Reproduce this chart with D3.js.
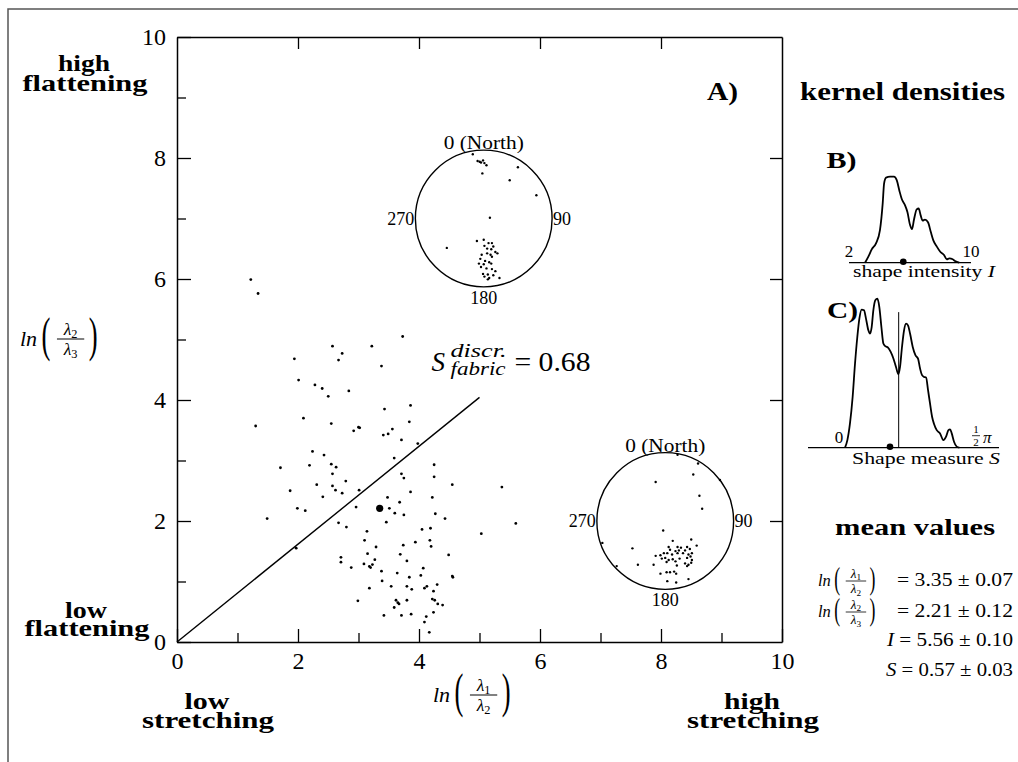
<!DOCTYPE html>
<html lang="en">
<head>
<meta charset="UTF-8">
<title>Fabric shape plot</title>
<script src="https://d3js.org/d3.v7.min.js"></script>
<style>
  body { margin: 0; padding: 0; background: #fff; }
  svg { display: block; font-family: "Liberation Serif", "DejaVu Serif", serif; }
</style>
</head>
<body>
<svg id="chart" width="1018" height="762"></svg>
<script>
// ---- data ----
const axisTicks = d3.range(0, 11);
const axisTickLabels = [0, 2, 4, 6, 8, 10];

// ln(l1/l2), ln(l2/l3) of every sample
const shapePoints = [
  [1.22,5.99],[1.34,5.76],[3.73,5.05],[2.57,4.89],[3.22,4.89],[2.73,4.77],[2.67,4.66],[1.94,4.68],
  [3.38,4.56],[2.01,4.33],[2.28,4.25],[2.40,4.19],[2.84,4.15],[2.50,4.06],[3.86,3.91],[3.43,3.85],
  [2.09,3.70],[3.84,3.64],[2.55,3.61],[1.30,3.57],[3.00,3.55],[3.02,3.54],[2.92,3.49],[3.56,3.52],
  [3.49,3.44],[3.41,3.42],[3.71,3.34],[3.98,3.28],[2.24,3.15],[2.43,3.09],[3.59,3.04],[2.19,2.92],
  [2.55,2.94],[2.63,2.89],[1.71,2.88],[4.25,2.93],[2.57,2.78],[3.71,2.78],[3.75,2.71],[4.25,2.73],
  [2.79,2.66],[2.31,2.60],[2.57,2.58],[4.55,2.60],[5.37,2.56],[1.87,2.50],[2.62,2.51],[2.73,2.46],
  [3.01,2.51],[3.86,2.48],[2.41,2.40],[3.48,2.39],[4.22,2.39],[3.68,2.31],[2.96,2.23],[3.51,2.21],
  [1.99,2.21],[2.12,2.17],[3.60,2.13],[3.75,2.10],[4.27,2.12],[4.43,2.04],[1.49,2.04],[3.46,1.98],
  [2.67,1.97],[2.80,1.90],[5.03,1.79],[5.60,1.96],[3.14,1.83],[4.05,1.86],[4.19,1.88],[3.10,1.68],
  [4.18,1.68],[3.94,1.65],[4.20,1.58],[3.29,1.57],[1.97,1.55],[3.74,1.60],[3.15,1.46],[3.69,1.45],
  [4.49,1.44],[2.71,1.40],[3.27,1.36],[3.80,1.34],[2.71,1.32],[3.09,1.29],[3.23,1.28],[3.18,1.25],
  [2.88,1.23],[3.20,1.23],[4.07,1.22],[3.38,1.17],[3.64,1.14],[4.03,1.10],[4.55,1.09],[4.56,1.07],
  [3.84,1.07],[3.39,1.01],[3.54,0.92],[3.80,0.92],[4.13,0.92],[4.30,0.95],[3.18,0.89],[3.88,0.87],
  [4.09,0.89],[4.24,0.84],[3.62,0.69],[3.80,0.69],[3.65,0.65],[4.22,0.71],[4.26,0.69],[2.99,0.68],
  [3.67,0.63],[3.59,0.57],[4.31,0.63],[4.39,0.61],[4.24,0.49],[3.42,0.44],[3.71,0.44],[3.87,0.46],
  [4.12,0.42],[4.09,0.33],[4.17,0.16]
];
const meanPoint = [3.35, 2.21];
const discrS = 0.68;        // S_fabric^discr.
const discrLineEndX = 5;

// stereonet poles, unit circle coords (east, north)
const netUpperPoles = [
  [-0.16,0.94],[-0.09,0.84],[-0.06,0.83],[-0.01,0.85],[0.01,0.81],[0.04,0.78],[-0.04,0.82],[-0.02,0.66],
  [0.50,0.75],[0.38,0.56],[0.77,0.34],[0.09,0.01],[-0.54,-0.43],
  [-0.10,-0.33],[0.00,-0.31],[0.07,-0.36],[0.12,-0.36],[0.01,-0.40],[0.14,-0.41],[0.05,-0.44],[0.11,-0.45],
  [0.17,-0.49],[0.20,-0.51],[-0.03,-0.53],[0.05,-0.51],[0.10,-0.53],[0.12,-0.56],[-0.05,-0.59],[0.02,-0.62],
  [0.08,-0.64],[-0.07,-0.66],[0.00,-0.67],[0.11,-0.66],[-0.04,-0.71],[0.04,-0.73],[0.12,-0.74],[0.17,-0.77],
  [-0.01,-0.81],[0.06,-0.82],[0.14,-0.83],[0.01,-0.85],[0.08,-0.87],[0.23,-0.87],[0.06,-0.89]
];
const netLowerPoles = [
  [0.18,0.97],[0.48,0.84],[0.41,0.68],[-0.14,0.57],[0.80,0.60],[0.50,0.37],[0.54,0.18],[-0.03,-0.14],
  [-0.92,-0.32],[-0.48,-0.40],[-0.40,-0.64],[-0.71,-0.66],[-0.17,-0.64],
  [0.11,-0.29],[0.38,-0.27],[0.05,-0.38],[0.18,-0.38],[0.23,-0.39],[0.32,-0.38],[0.46,-0.36],[0.07,-0.42],
  [0.15,-0.44],[0.20,-0.43],[0.29,-0.43],[0.36,-0.41],[-0.14,-0.51],[-0.07,-0.50],[-0.02,-0.47],[0.03,-0.47],
  [0.10,-0.49],[0.18,-0.47],[0.26,-0.47],[0.34,-0.49],[0.39,-0.47],[-0.05,-0.55],[0.00,-0.54],[0.05,-0.57],
  [0.11,-0.56],[0.21,-0.55],[0.32,-0.54],[0.37,-0.52],[0.39,-0.57],[0.02,-0.60],[0.15,-0.59],[0.17,-0.65],
  [0.29,-0.62],[0.34,-0.64],[0.32,-0.66],[0.38,-0.61],[-0.07,-0.77],[0.02,-0.75],[0.07,-0.75],[0.13,-0.74],
  [0.16,-0.77],[0.03,-0.88],[0.16,-0.90],[0.34,-0.85]
];

// kernel density of shape intensity I (relative height)
const densityIGrid = [3.05,3.27,3.49,3.77,4.03,4.21,4.30,4.43,4.69,4.95,5.13,5.30,5.46,5.67,5.83,6.00,6.13,
  6.26,6.44,6.57,6.70,6.83,6.98,7.18,7.36,7.53,7.75,7.97,8.23,8.41,8.58,8.80,8.95,9.23];
const densityIValues = [0,0.07,0.155,0.225,0.38,0.69,0.92,0.99,1.0,1.0,0.96,0.84,0.74,0.67,0.59,0.44,0.39,
  0.50,0.62,0.63,0.55,0.49,0.50,0.47,0.36,0.26,0.19,0.13,0.09,0.04,0.05,0.04,0.02,0];

// kernel density of shape measure S (relative height)
const densitySGrid = [0,0.03,0.063,0.097,0.127,0.156,0.182,0.211,0.241,0.266,0.296,0.317,0.338,0.359,0.384,
  0.41,0.435,0.461,0.486,0.511,0.545,0.579,0.613,0.646,0.676,0.697,0.722,0.748,0.773,0.798,0.824,0.858,0.892,
  0.925,0.951,0.976,1.001,1.027,1.052,1.077,1.103,1.128,1.162,1.204,1.246,1.28,1.31,1.331,1.352,1.381,1.415,1.449];
const densitySValues = [0,0.051,0.163,0.342,0.565,0.743,0.866,0.927,0.922,0.866,0.788,0.766,0.81,0.922,0.989,
  1.0,0.944,0.81,0.699,0.681,0.672,0.643,0.599,0.542,0.493,0.542,0.676,0.788,0.833,0.821,0.766,0.676,0.621,
  0.598,0.531,0.487,0.475,0.471,0.386,0.297,0.208,0.159,0.118,0.096,0.051,0.074,0.118,0.123,0.096,0.04,0.007,0];

// mean values
const meanI = 5.56, meanS = 0.57;
const meanValueNums = ["3.35", "2.21", "5.56", "0.57"];
const meanValueErrs = ["0.07", "0.12", "0.10", "0.03"];

// ---- drawing ----
const svg = d3.select("#chart");

// outer frame (top and left only)
svg.append("path").attr("d", "M8,762V9H1018").attr("fill", "none")
  .attr("stroke", "#555").attr("stroke-width", 1.5);

const x = d3.scaleLinear().domain([0, 10]).range([177, 782]);
const y = d3.scaleLinear().domain([0, 10]).range([642, 37]);

function styleAxis(g) {
  g.attr("font-family", null).attr("font-size", 24);
  g.select(".domain").attr("stroke", "#000").attr("stroke-width", 1.5);
  g.selectAll(".tick line").attr("stroke", "#000").attr("stroke-width", 1.3);
  g.selectAll(".tick text").attr("fill", "#000");
}

svg.append("g").attr("transform", `translate(0,${y(0)})`)
  .call(d3.axisBottom(x).tickValues(axisTicks).tickSizeInner(-12).tickSizeOuter(0).tickPadding(10)
    .tickFormat(d => axisTickLabels.includes(d) ? d : ""))
  .call(styleAxis)
  .call(g => g.selectAll(".tick line").attr("y2", d => d % 2 ? -9 : -13));

svg.append("g").attr("transform", `translate(${x(0)},0)`)
  .call(d3.axisLeft(y).tickValues(axisTicks).tickSizeInner(-12).tickSizeOuter(0).tickPadding(11)
    .tickFormat(d => axisTickLabels.includes(d) ? d : ""))
  .call(styleAxis)
  .call(g => g.selectAll(".tick line").attr("x2", d => d % 2 ? 9 : 14));

svg.append("g").attr("transform", `translate(0,${y(10)})`)
  .call(d3.axisTop(x).tickValues([2, 4, 6, 8]).tickSizeInner(-12).tickSizeOuter(0).tickFormat(""))
  .call(styleAxis);

svg.append("g").attr("transform", `translate(${x(10)},0)`)
  .call(d3.axisRight(y).tickValues([2, 4, 6, 8]).tickSizeInner(-12).tickSizeOuter(0).tickFormat(""))
  .call(styleAxis);

// discrimination line at angle S = 0.68
svg.append("line")
  .attr("x1", x(0)).attr("y1", y(0))
  .attr("x2", x(discrLineEndX)).attr("y2", y(discrLineEndX * Math.tan(discrS)))
  .attr("stroke", "#000").attr("stroke-width", 1.4);

// sample points
svg.append("g").selectAll("circle").data(shapePoints).join("circle")
  .attr("cx", d => x(d[0])).attr("cy", d => y(d[1])).attr("r", 1.4).attr("fill", "#000");

svg.append("circle").attr("cx", x(meanPoint[0])).attr("cy", y(meanPoint[1])).attr("r", 3.6).attr("fill", "#000");

// S_fabric^discr label
{
  const lx = x(discrLineEndX) - 48, ly = y(discrLineEndX * Math.tan(discrS)) - 26;
  const t = svg.append("g").attr("transform", `translate(${lx},${ly})`);
  t.append("text").attr("font-style", "italic").attr("font-size", 27).text("S");
  t.append("text").attr("font-style", "italic").attr("font-size", 18).attr("x", 19).attr("y", -14)
    .attr("textLength", 56).attr("lengthAdjust", "spacingAndGlyphs").text("discr.");
  t.append("text").attr("font-style", "italic").attr("font-size", 18).attr("x", 19).attr("y", 4)
    .attr("textLength", 55).attr("lengthAdjust", "spacingAndGlyphs").text("fabric");
  t.append("text").attr("font-size", 27).attr("x", 83).attr("textLength", 76)
    .attr("lengthAdjust", "spacingAndGlyphs").text("= 0.68");
}

// stereonets
const netR = 1.13;
function stereonet(cx, cy, poles) {
  const sx = d3.scaleLinear().domain([-1, 1]).range([x(cx - netR), x(cx + netR)]);
  const sy = d3.scaleLinear().domain([-1, 1]).range([y(cy - netR), y(cy + netR)]);
  const g = svg.append("g");
  const r = sx(1) - sx(0);
  g.append("circle").attr("cx", sx(0)).attr("cy", sy(0)).attr("r", r)
    .attr("fill", "none").attr("stroke", "#000").attr("stroke-width", 1.4);
  g.selectAll(".pole").data(poles).join("circle").attr("class", "pole")
    .attr("cx", d => sx(d[0])).attr("cy", d => sy(d[1])).attr("r", 1.2).attr("fill", "#000");
  const lab = g.append("g").attr("font-size", 18);
  lab.append("text").attr("x", sx(0)).attr("y", sy(1) - 1).attr("text-anchor", "middle")
    .attr("textLength", 80).attr("lengthAdjust", "spacingAndGlyphs").text("0 (North)");
  lab.append("text").attr("x", sx(0)).attr("y", sy(-1) + 17).attr("text-anchor", "middle").text("180");
  lab.append("text").attr("x", sx(-1) - 1).attr("y", sy(0) + 6).attr("text-anchor", "end").text("270");
  lab.append("text").attr("x", sx(1) + 1).attr("y", sy(0) + 6).text("90");
}
stereonet(5.07, 7.0, netUpperPoles);
stereonet(8.07, 2.0, netLowerPoles);

// ln(a/b) with tall slim parentheses; x0 = left of "ln", ya = fraction bar
function lnFrac(x0, ya, num, den, s, pk) {
  const k = pk || 2.2;
  const f = svg.append("g").attr("transform", `translate(${x0},${ya})`);
  f.append("text").attr("font-style", "italic").attr("font-size", s).attr("y", 0.3 * s).text("ln");
  const paren = (px, ch) => f.append("text").attr("font-size", k * s)
    .attr("transform", `translate(${px},${0.25 * k * s}) scale(0.55,1)`).text(ch);
  paren(0.98 * s, "(");
  const fx = 2.3 * s, hw = 0.62 * s;
  [[num, -0.2 * s], [den, 0.74 * s]].forEach(([sub, yy]) => {
    const t = f.append("text").attr("x", fx).attr("y", yy).attr("text-anchor", "middle")
      .attr("font-size", 0.8 * s).attr("font-style", "italic").text("λ");
    t.append("tspan").attr("font-style", "normal").attr("font-size", 0.56 * s).attr("dy", 0.14 * s).text(sub);
  });
  f.append("line").attr("x1", fx - hw).attr("x2", fx + hw).attr("y1", 0).attr("y2", 0)
    .attr("stroke", "#000").attr("stroke-width", Math.max(0.8, s * 0.045));
  paren(fx + hw + 0.2 * s, ")");
}

lnFrac(20, 339, "2", "3", 22);
lnFrac(433, 695, "1", "2", 22);

// bold annotations
function boldText(txt, cx, by, w, size) {
  svg.append("text").attr("x", cx).attr("y", by).attr("text-anchor", "middle")
    .attr("font-weight", "bold").attr("font-size", size || 24)
    .attr("textLength", w).attr("lengthAdjust", "spacingAndGlyphs").text(txt);
}
// two tightly stacked lines in one text element
function boldPair(top, bottom, cx, by1, by2, w1, w2) {
  const t = svg.append("text").attr("text-anchor", "middle").attr("font-weight", "bold").attr("font-size", 24);
  t.append("tspan").attr("x", cx).attr("y", by1)
    .attr("textLength", w1).attr("lengthAdjust", "spacingAndGlyphs").text(top);
  t.append("tspan").attr("x", cx + 1).attr("y", by2)
    .attr("textLength", w2).attr("lengthAdjust", "spacingAndGlyphs").text(bottom);
}
boldPair("high", "flattening", 84, 71, 91, 52, 125);
boldPair("low", "flattening", 86, 618, 636, 42, 125);
boldPair("low", "stretching", 207, 709, 728, 45, 132);
boldPair("high", "stretching", 752, 709, 728, 56, 132);
boldText("A)", 722.5, 100, 31, 25);
boldText("kernel densities", 902.5, 100, 205, 25);
boldText("B)", 841.5, 168, 30, 23);
boldText("C)", 842.5, 318, 31, 23);
boldText("mean values", 915, 535, 160, 24);

// kernel density B: shape intensity I
{
  const xi = d3.scaleLinear().domain([2, 10]).range([849, 971]);
  const yi = d3.scaleLinear().domain([0, 1]).range([262.7, 176.7]);
  svg.append("line").attr("x1", xi(2)).attr("x2", xi(10)).attr("y1", yi(0)).attr("y2", yi(0))
    .attr("stroke", "#000").attr("stroke-width", 1.3);
  svg.append("path").datum(d3.zip(densityIGrid, densityIValues))
    .attr("d", d3.line().x(d => xi(d[0])).y(d => yi(d[1])).curve(d3.curveMonotoneX))
    .attr("fill", "none").attr("stroke", "#000").attr("stroke-width", 1.8);
  svg.append("circle").attr("cx", xi(meanI)).attr("cy", yi(0) - 1).attr("r", 3.3).attr("fill", "#000");
  svg.append("text").attr("x", xi(2)).attr("y", yi(0) - 6).attr("text-anchor", "middle").attr("font-size", 17).text("2");
  svg.append("text").attr("x", xi(10)).attr("y", yi(0) - 6).attr("text-anchor", "middle").attr("font-size", 17).text("10");
  const t = svg.append("text").attr("x", 924).attr("y", 277).attr("text-anchor", "middle").attr("font-size", 17)
    .attr("textLength", 142).attr("lengthAdjust", "spacingAndGlyphs").text("shape intensity ");
  t.append("tspan").attr("font-style", "italic").text("I");
}

// kernel density C: shape measure S
{
  const xs = d3.scaleLinear().domain([0, Math.PI / 2]).range([845, 969]);
  const ys = d3.scaleLinear().domain([0, 1]).range([447.7, 298.7]);
  svg.append("line").attr("x1", 808).attr("x2", 999).attr("y1", ys(0)).attr("y2", ys(0))
    .attr("stroke", "#000").attr("stroke-width", 1.3);
  svg.append("path").datum(d3.zip(densitySGrid, densitySValues))
    .attr("d", d3.line().x(d => xs(d[0])).y(d => ys(d[1])).curve(d3.curveMonotoneX))
    .attr("fill", "none").attr("stroke", "#000").attr("stroke-width", 1.8);
  svg.append("line").attr("x1", xs(discrS)).attr("x2", xs(discrS)).attr("y1", ys(0)).attr("y2", ys(0.91))
    .attr("stroke", "#000").attr("stroke-width", 1);
  svg.append("circle").attr("cx", xs(meanS)).attr("cy", ys(0) - 1).attr("r", 3.3).attr("fill", "#000");
  svg.append("text").attr("x", xs(0) - 6).attr("y", ys(0) - 5).attr("text-anchor", "middle").attr("font-size", 17).text("0");
  const h = svg.append("g").attr("transform", `translate(${xs(Math.PI / 2) + 3},${ys(0) - 5})`);
  h.append("text").attr("x", 4).attr("y", -10).attr("text-anchor", "middle").attr("font-size", 11).text("1");
  h.append("line").attr("x1", 0).attr("x2", 8).attr("y1", -7).attr("y2", -7).attr("stroke", "#000").attr("stroke-width", 0.8);
  h.append("text").attr("x", 4).attr("y", 3).attr("text-anchor", "middle").attr("font-size", 11).text("2");
  h.append("text").attr("x", 11).attr("y", 0).attr("font-size", 17).attr("font-style", "italic").text("π");
  const t = svg.append("text").attr("x", 926).attr("y", 464).attr("text-anchor", "middle").attr("font-size", 17)
    .attr("textLength", 148).attr("lengthAdjust", "spacingAndGlyphs").text("Shape measure ");
  t.append("tspan").attr("font-style", "italic").text("S");
}

// mean values block
lnFrac(818, 581, "1", "2", 16.5, 1.95);
lnFrac(818, 612, "2", "3", 16.5, 1.95);
const meanRows = [[586, 897, 116], [617, 897, 116], [646, 887, 126], [676, 886, 127]];
meanRows.forEach(([by, left, w], i) => {
  const t = svg.append("text").attr("x", left).attr("y", by).attr("font-size", 18)
    .attr("textLength", w).attr("lengthAdjust", "spacingAndGlyphs");
  if (i === 2) t.append("tspan").attr("font-style", "italic").text("I ");
  if (i === 3) t.append("tspan").attr("font-style", "italic").text("S ");
  t.append("tspan").text(`= ${meanValueNums[i]} ± ${meanValueErrs[i]}`);
});
</script>
</body>
</html>
